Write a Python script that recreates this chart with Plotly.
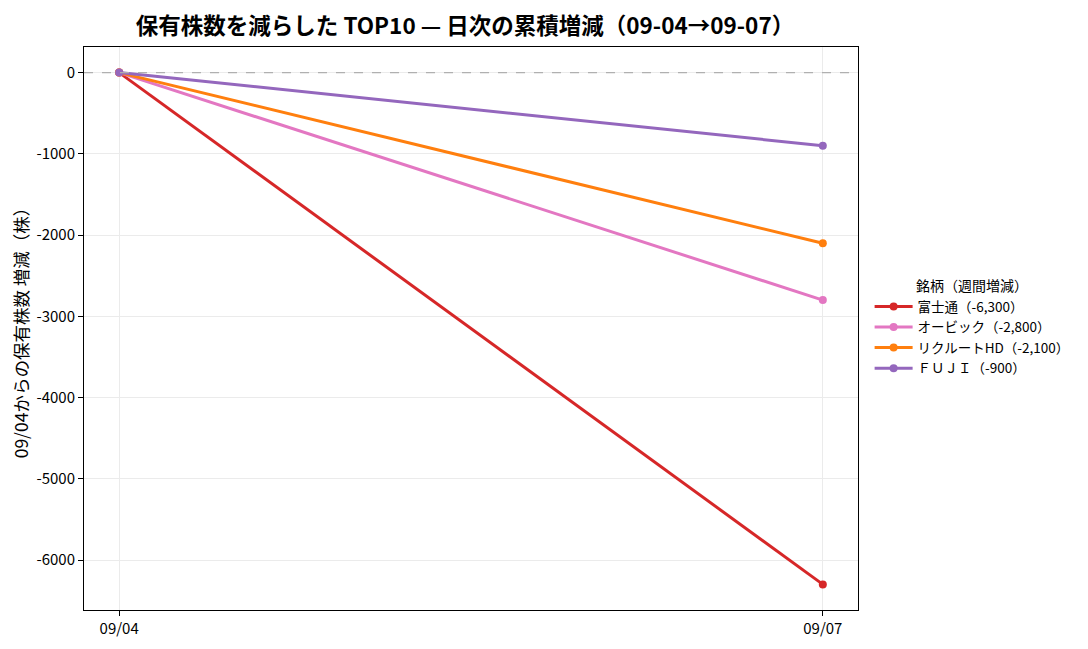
import plotly.graph_objects as go

dates = ["09/04", "09/07"]
names = ["富士通", "オービック", "リクルートHD", "ＦＵＪＩ"]
weekly = [-6300, -2800, -2100, -900]
cum_fujitsu = [0, -6300]
cum_obic = [0, -2800]
cum_recruit = [0, -2100]
cum_fuji = [0, -900]
colors = ["#d62728", "#e377c2", "#ff7f0e", "#9467bd"]
y_ticks = [0, -1000, -2000, -3000, -4000, -5000, -6000]

series = [cum_fujitsu, cum_obic, cum_recruit, cum_fuji]
font = "Noto Sans CJK JP"

fig = go.Figure()
for name, w, ys, c in zip(names, weekly, series, colors):
    fig.add_trace(go.Scatter(
        x=[0, 1], y=ys, mode="lines+markers",
        name=f"{name}（{w:,}）",
        line=dict(color=c, width=3),
        marker=dict(color=c, size=8),
    ))

# dashed zero reference line
fig.add_hline(y=0, line=dict(color="#b0b0b0", width=1.4, dash="dash"), layer="above")

fig.update_layout(
    width=1088, height=649,
    paper_bgcolor="white", plot_bgcolor="white",
    font=dict(family=font, size=15, color="black"),
    margin=dict(l=76, r=238, t=39, b=47, autoexpand=False),
    title=dict(text="<b>保有株数を減らした TOP10 — 日次の累積増減（09-04→09-07）</b>",
               x=457 / 1088, xanchor="center",
               y=0.972, yanchor="middle", font=dict(size=22.5)),
    legend=dict(title=dict(text="銘柄（週間増減）", side="top center", font=dict(size=14)),
                x=1.015, xanchor="left", y=0.5, yanchor="middle",
                itemwidth=38, tracegroupgap=0,
                font=dict(size=13.5), bgcolor="rgba(0,0,0,0)"),
    showlegend=True,
)
fig.update_xaxes(range=[-0.05, 1.05], tickvals=[0, 1], ticktext=dates,
                 showline=True, linecolor="black", linewidth=1, mirror=True,
                 ticks="outside", ticklen=5, tickcolor="black", automargin=False,
                 showgrid=True, gridcolor="#ebebeb", zeroline=False)
fig.update_yaxes(range=[-6615, 315], tickvals=y_ticks, ticktext=[str(t) for t in y_ticks],
                 title=dict(text="09/04からの保有株数 増減（株）", font=dict(size=17.5), standoff=8),
                 showline=True, linecolor="black", linewidth=1, mirror=True,
                 ticks="outside", ticklen=5, tickcolor="black", automargin=False,
                 showgrid=True, gridcolor="#ebebeb", zeroline=False)

fig.write_html("out.html")
